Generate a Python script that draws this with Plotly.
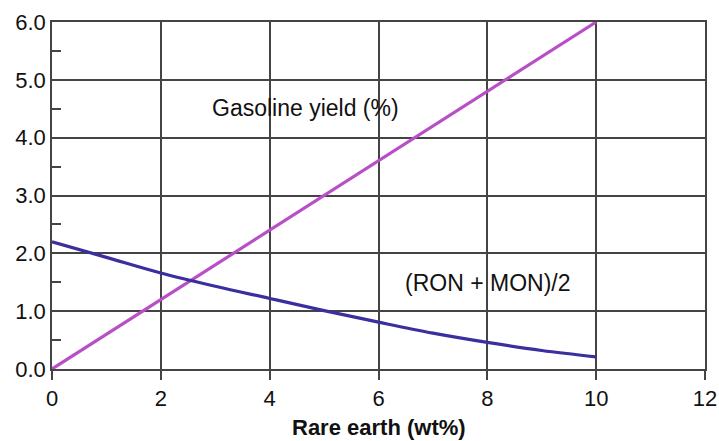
import plotly.graph_objects as go

rare_earth = [0, 1, 2, 3, 4, 5, 6, 7, 8, 9, 10]
octane = [2.2, 1.93, 1.66, 1.43, 1.22, 1.01, 0.81, 0.62, 0.46, 0.32, 0.21]
gas_x = [0, 10]
gas_yield = [0.0, 6.0]

x_ticks = [0, 2, 4, 6, 8, 10, 12]
y_ticks = [0, 1, 2, 3, 4, 5, 6]
y_labels = ["0.0", "1.0", "2.0", "3.0", "4.0", "5.0", "6.0"]

FONT = "Liberation Sans, Arial, sans-serif"

fig = go.Figure()
fig.add_trace(go.Scatter(x=gas_x, y=gas_yield, mode="lines",
                         line=dict(color="#B84FC6", width=3.2), showlegend=False))
fig.add_trace(go.Scatter(x=rare_earth, y=octane, mode="lines", line_shape="spline",
                         line=dict(color="#3B2E9E", width=3.2), showlegend=False))

fig.add_annotation(x=4.65, y=4.52, text="Gasoline yield (%)", showarrow=False,
                   font=dict(family=FONT, size=23, color="#111"))
fig.add_annotation(x=8.0, y=1.49, text="(RON + MON)/2", showarrow=False,
                   font=dict(family=FONT, size=23, color="#111"))
fig.add_annotation(x=0.5, xref="paper", y=-0.168, yref="paper", yanchor="middle",
                   text="<b>Rare earth (wt%)</b>", showarrow=False,
                   font=dict(family=FONT, size=22, color="#111"))

fig.update_layout(
    width=719, height=441,
    margin=dict(l=52, r=14, t=22, b=72),
    paper_bgcolor="white", plot_bgcolor="white",
    font=dict(family=FONT, size=22, color="#111"),
    xaxis=dict(range=[0, 12], tickvals=x_ticks, ticks="outside", ticklen=9,
               tickcolor="#444", tickwidth=1.5, automargin=False,
               showgrid=True, gridcolor="#444", gridwidth=1.5,
               showline=True, linecolor="#444", linewidth=1.5, mirror=True,
               zeroline=False),
    yaxis=dict(range=[0, 6], tickvals=y_ticks, ticktext=y_labels, ticks="",
               automargin=False,
               showgrid=True, gridcolor="#444", gridwidth=1.5,
               showline=True, linecolor="#444", linewidth=1.5, mirror=True,
               zeroline=False,
               minor=dict(tickvals=[0.5, 1.5, 2.5, 3.5, 4.5, 5.5], ticks="inside",
                          ticklen=9, tickcolor="#444", tickwidth=1.5, showgrid=False)),
)

fig.write_html("out.html")
